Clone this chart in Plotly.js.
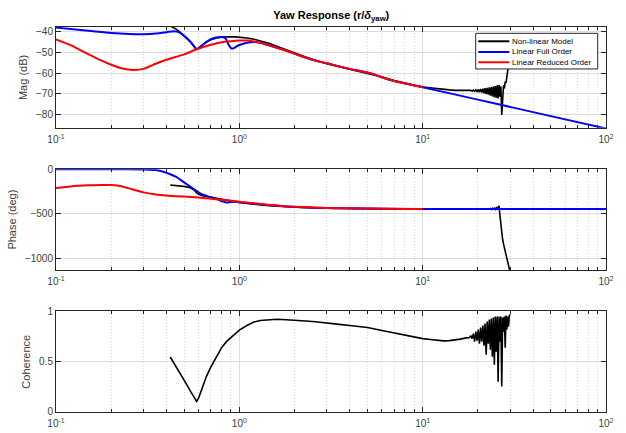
<!DOCTYPE html>
<html>
<head>
<meta charset="utf-8">
<script src="https://cdn.plot.ly/plotly-3.0.1.min.js"></script>
<style>html,body{margin:0;padding:0;background:#fff;}#chart{width:626px;height:433px;}</style>
</head>
<body>
<div id="chart"></div>
<script>
// ---------- Data ----------
// Non-linear model (black)
const nlFreq = [0.42,0.45,0.48,0.51,0.54,0.57,0.585,0.6,0.63,0.66,0.7,0.75,0.8,0.85,0.9,0.95,1.0,1.1,1.2,1.3,1.45,1.6,1.8,2.0,2.3,2.6,3.0,3.5,4,4.5,5,6,7,8,9,10,11,12,13,14,15,16,17,18,
  18.3,18.6,18.9,19.2,19.5,19.8,20.1,20.4,20.7,21.0,21.3,21.6,21.9,22.2,22.5,22.8,23.1,23.4,23.7,24.0,24.3,24.6,24.9,25.2,25.5,25.8,26.1,26.4,26.7,27.0,27.3,27.6,27.9,28.2,28.5,28.8,29.1,29.4,29.7,30.0];
const nlMag = [-37.2,-38.6,-40.5,-42.5,-44.8,-47.5,-48.5,-47.8,-46.3,-45.0,-43.9,-43.0,-42.6,-42.4,-42.4,-42.5,-42.6,-43.0,-43.6,-44.3,-45.6,-47.0,-48.7,-50.4,-52.3,-53.8,-55.5,-56.9,-58.1,-59.1,-60.0,-61.9,-63.6,-65.0,-66.0,-66.8,-67.3,-67.7,-68.0,-68.2,-68.4,-68.5,-68.5,-68.6,
  -68.4,-68.8,-68.3,-68.9,-68.2,-69.0,-68.0,-69.3,-67.8,-69.5,-67.6,-69.8,-67.4,-70.2,-67.2,-70.5,-67.0,-71.0,-66.8,-71.3,-66.5,-71.8,-66.3,-72.0,-66.0,-72.3,-65.8,-71.5,-66.5,-80.3,-68.0,-66.0,-67.5,-64.2,-64.8,-61.0,-58.5,-56.0,-53.0,-50.0];
const nlPhase = [-173,-178,-183,-192,-205,-235,-262,-278,-295,-303,-310,-320,-333,-345,-356,-363,-370,-382,-392,-400,-408,-414,-420,-425,-429,-432,-435,-437,-439,-440,-441,-442,-443,-444,-444,-445,-445,-445,-445,-445,-445,-445,-445,-445,
  -446,-444,-447,-443,-446,-444,-445,-443,-447,-442,-446,-443,-448,-441,-447,-440,-448,-439,-449,-437,-446,-435,-450,-430,-445,-425,-410,-520,-640,-735,-790,-840,-880,-910,-960,-1010,-1050,-1085,-1120,-1160];
const nlCoh = [0.547,0.46,0.37,0.29,0.21,0.13,0.105,0.14,0.25,0.35,0.45,0.55,0.64,0.70,0.74,0.78,0.815,0.86,0.895,0.91,0.918,0.922,0.918,0.91,0.905,0.898,0.888,0.872,0.86,0.85,0.84,0.81,0.785,0.765,0.745,0.73,0.722,0.712,0.708,0.71,0.715,0.725,0.735,0.74,
  0.76,0.73,0.78,0.70,0.80,0.71,0.82,0.68,0.84,0.70,0.86,0.66,0.88,0.57,0.90,0.68,0.92,0.62,0.93,0.55,0.94,0.47,0.95,0.60,0.95,0.30,0.95,0.70,0.95,0.255,0.94,0.80,0.95,0.64,0.96,0.82,0.95,0.85,0.96,0.97];

// Linear full order (blue)
const fullFreqMag = [0.1,0.15,0.2,0.25,0.3,0.35,0.4,0.44,0.47,0.5,0.54,0.57,0.585,0.6,0.65,0.7,0.75,0.8,0.84,0.87,0.9,0.93,0.97,1.0,1.1,1.2,1.3,1.5,1.7,2.0,2.14,2.5,3,4,5,7,10,20,50,100];
const fullMag = [-38.0,-39.5,-40.6,-41.1,-41.2,-40.9,-40.2,-39.7,-40.3,-42.0,-44.8,-47.3,-48.5,-48.0,-45.5,-43.6,-42.8,-42.6,-43.2,-46.0,-48.0,-48.0,-47.0,-46.4,-45.3,-45.0,-45.3,-46.9,-48.4,-50.6,-51.6,-53.6,-55.3,-58.0,-59.8,-63.9,-66.9,-72.9,-80.9,-86.9];
const fullFreqPh = [0.1,0.2,0.3,0.35,0.4,0.45,0.5,0.54,0.58,0.62,0.68,0.75,0.8,0.85,0.9,0.95,1.0,1.14,1.4,1.7,2.14,3,5,10,100];
const fullPhase = [3,5,2,-5,-35,-80,-145,-191,-236,-275,-305,-330,-355,-372,-365,-362,-368,-378,-398,-412,-425,-435,-442,-445,-446];

// Linear reduced order (red)
const redFreqMag = [0.1,0.12,0.14,0.17,0.2,0.23,0.264,0.3,0.35,0.4,0.5,0.585,0.7,0.8,0.9,1.0,1.1,1.2,1.3,1.5,1.7,2.0,2.14,2.5,3,4,5,7,10];
const redMag = [-43.7,-46.5,-49.5,-53.3,-56.0,-57.8,-58.5,-58.0,-55.5,-53.6,-51.0,-48.5,-46.3,-45.1,-44.6,-44.3,-44.3,-44.7,-45.3,-47.0,-48.5,-50.6,-51.6,-53.6,-55.3,-58.0,-59.8,-63.9,-66.9];
const redFreqPh = [0.1,0.12,0.15,0.18,0.2,0.23,0.26,0.3,0.35,0.4,0.5,0.6,0.7,0.8,0.9,1.0,1.2,1.43,1.7,2.0,2.75,4,6,10];
const redPhase = [-207,-190,-178,-173,-175,-190,-222,-257,-280,-292,-305,-315,-328,-340,-352,-362,-380,-396,-410,-420,-432,-438,-442,-444];

// Axis ticks and legend labels
const xTickVals = [0.1,1,10,100];
const xTickText = ['10<sup>-1</sup>','10<sup>0</sup>','10<sup>1</sup>','10<sup>2</sup>'];
const xMinorVals = [0.2,0.3,0.4,0.5,0.6,0.7,0.8,0.9,2,3,4,5,6,7,8,9,20,30,40,50,60,70,80,90];
const magTicks = [-80,-70,-60,-50,-40];
const phaseTicks = [-1000,-500,0];
const cohTicks = [0,0.5,1];
const seriesNames = ['Non-linear Model','Linear Full Order','Linear Reduced Order'];

// ---------- Styling ----------
const COLORS = ['#000000', '#0000ff', '#ff0000'];
const axisCol = '#262626';
const FAM = 'Liberation Sans, Arial, sans-serif';
const font = {family: FAM, size: 10, color: '#404040'};

const traces = [
  {x: nlFreq, y: nlMag, xaxis:'x', yaxis:'y', mode:'lines', line:{color:COLORS[0], width:1.6}},
  {x: fullFreqMag, y: fullMag, xaxis:'x', yaxis:'y', mode:'lines', line:{color:COLORS[1], width:2, shape:'spline', smoothing:0.6}},
  {x: redFreqMag, y: redMag, xaxis:'x', yaxis:'y', mode:'lines', line:{color:COLORS[2], width:2, shape:'spline', smoothing:0.6}},
  {x: nlFreq, y: nlPhase, xaxis:'x2', yaxis:'y2', mode:'lines', line:{color:COLORS[0], width:1.6}},
  {x: fullFreqPh, y: fullPhase, xaxis:'x2', yaxis:'y2', mode:'lines', line:{color:COLORS[1], width:2, shape:'spline', smoothing:0.6}},
  {x: redFreqPh, y: redPhase, xaxis:'x2', yaxis:'y2', mode:'lines', line:{color:COLORS[2], width:2, shape:'spline', smoothing:0.6}},
  {x: nlFreq, y: nlCoh, xaxis:'x3', yaxis:'y3', mode:'lines', line:{color:COLORS[0], width:1.6}}
];

function xAxis(anchor) {
  return {
    type:'log', range:[-1, 2], anchor: anchor,
    tickmode:'array', tickvals: xTickVals, ticktext: xTickText,
    ticks:'inside', ticklen:5, tickcolor: axisCol,
    showline:true, linecolor: axisCol, linewidth:1, mirror:'ticks',
    showgrid:true, gridcolor:'#dcdcdc', gridwidth:1,
    minor:{tickmode:'array', tickvals: xMinorVals, ticks:'inside', ticklen:3, tickcolor: axisCol,
           showgrid:true, gridcolor:'#d6d6d6', griddash:'1px,2px', gridwidth:1},
    zeroline:false, tickfont: font, ticklabelstandoff: 2
  };
}
function yAxis(anchor, dom, rng, ticks, title) {
  return {
    domain: dom, range: rng, anchor: anchor,
    tickmode:'array', tickvals: ticks,
    ticks:'inside', ticklen:5, tickcolor: axisCol,
    showline:true, linecolor: axisCol, linewidth:1, mirror:'ticks',
    showgrid:true, gridcolor:'#dcdcdc', gridwidth:1, zeroline:false,
    tickfont: font,
    title:{text: title, font:{family: FAM, size: 11, color:'#404040'}, standoff: 6}
  };
}

// Custom legend (box, line samples, labels) in paper coordinates
const leg = {x0:0.7631, x1:0.9849, y0:0.891, y1:0.9836, lx0:0.7678, lx1:0.8242, tx:0.8267, rows:[0.9629, 0.9351, 0.9084]};
const shapes = [
  {type:'rect', xref:'paper', yref:'paper', x0:leg.x0, x1:leg.x1, y0:leg.y0, y1:leg.y1,
   fillcolor:'#ffffff', line:{color:axisCol, width:1}, layer:'above'}
];
const annotations = [];
seriesNames.forEach((nm, i) => {
  shapes.push({type:'line', xref:'paper', yref:'paper', x0:leg.lx0, x1:leg.lx1, y0:leg.rows[i], y1:leg.rows[i],
               line:{color:COLORS[i], width:2}, layer:'above'});
  annotations.push({xref:'paper', yref:'paper', x:leg.tx, y:leg.rows[i], xanchor:'left', yanchor:'middle',
                    text: nm, showarrow:false, font:{family:FAM, size:8, color:'#000'}, borderpad:0});
});

const layout = {
  width:626, height:433,
  margin:{l:56, r:20, t:27, b:21},
  paper_bgcolor:'#ffffff', plot_bgcolor:'#ffffff',
  font: font,
  showlegend:false,
  title:{text:'<b>Yaw Response (r/<i>δ</i><sub>yaw</sub>)</b>', font:{family: FAM, size:11, color:'#000'},
         x:0.5292, xanchor:'center', xref:'container', y:0.965, yref:'container', yanchor:'middle'},
  xaxis: xAxis('y'),
  xaxis2: xAxis('y2'),
  xaxis3: xAxis('y3'),
  yaxis: yAxis('x', [0.738, 1], [-86.6, -37.7], magTicks, 'Mag (dB)'),
  yaxis2: yAxis('x2', [0.3685, 0.6307], [-1136, 5], phaseTicks, 'Phase (deg)'),
  yaxis3: yAxis('x3', [0, 0.2611], [0, 1], cohTicks, 'Coherence'),
  shapes: shapes,
  annotations: annotations
};

Plotly.newPlot('chart', traces, layout, {staticPlot:true, displayModeBar:false});
</script>
</body>
</html>
